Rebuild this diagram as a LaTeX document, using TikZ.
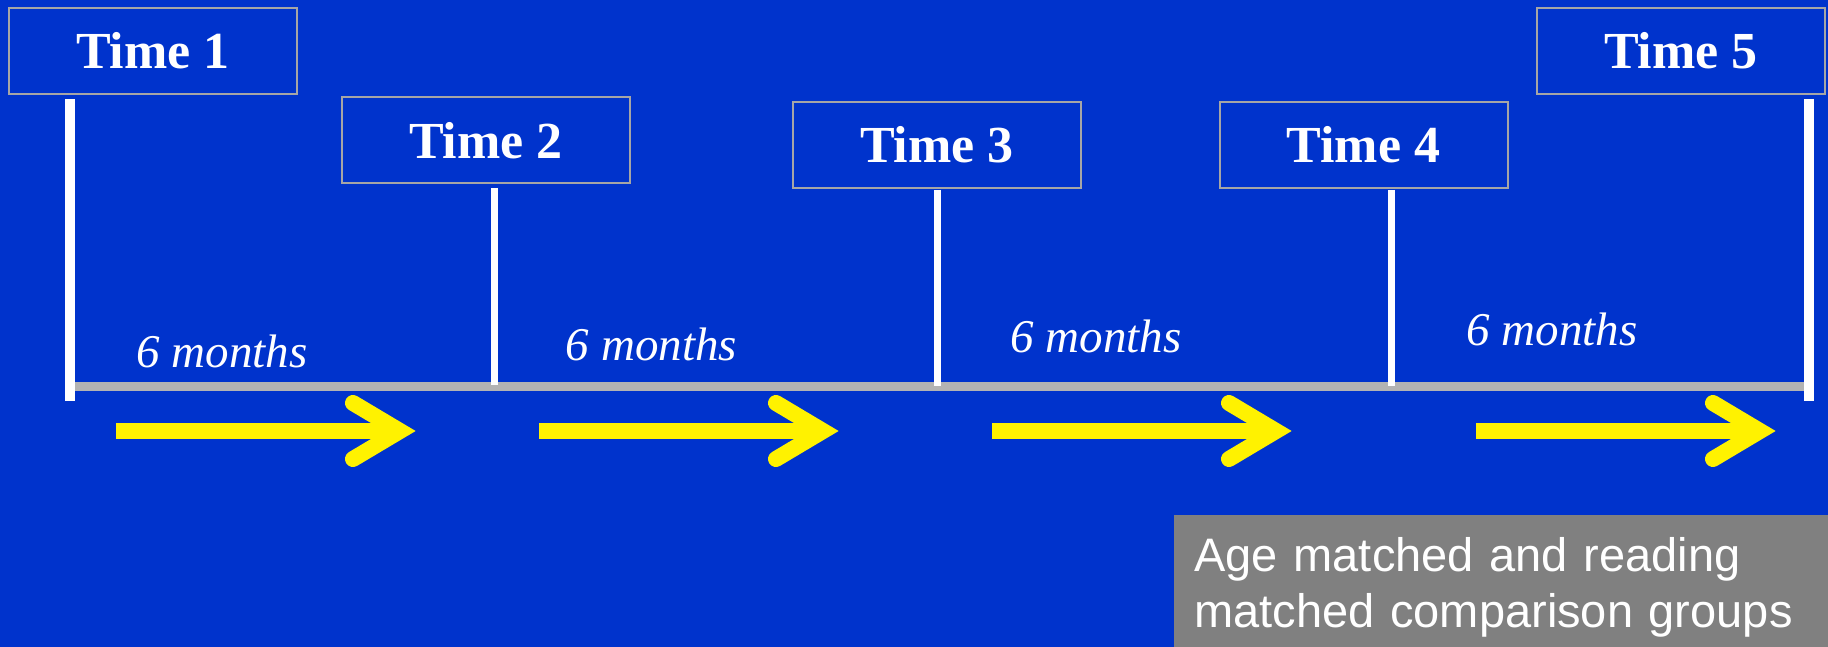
\documentclass[tikz,border=0pt]{standalone}
\usepackage{fontspec}
\setmainfont{Liberation Serif}
\newfontfamily\arialfont{Liberation Sans}

\definecolor{slideblue}{RGB}{0,51,204}
\definecolor{framegray}{RGB}{166,166,166}
\definecolor{linegray}{RGB}{179,179,179}
\definecolor{boxgray}{RGB}{128,128,128}

\tikzset{
  timebox/.style={draw=framegray, line width=1pt, minimum width=144pt, minimum height=43pt,
    inner sep=0pt, text=white, font=\fontsize{26}{30}\selectfont\bfseries},
  months/.style={anchor=base, text=white, inner sep=0pt, font=\fontsize{23.5}{28}\selectfont\itshape},
  tickbar/.style={draw=white, line width=3.5pt},
  yarrow/.style={draw=yellow, line width=8pt},
  groupbox/.style={fill=boxgray, text=white, align=left, text width=307pt, inner xsep=10pt,
    minimum height=72pt, font=\arialfont\fontsize{23.5}{28}\selectfont}
}

\begin{document}
\begin{tikzpicture}[x=0.5pt, y=-0.5pt]
            \useasboundingbox (0,0) rectangle (1828,647);
            \fill[slideblue] (0,0) rectangle (1828,647);
            % time points
            \node[timebox] (t1) at (153,51) {Time 1};
            \node[timebox] (t2) at (486,140.5) {Time 2};
            \node[timebox] (t3) at (937,145) {Time 3};
            \node[timebox] (t4) at (1363.5,145) {Time 4};
            \node[timebox] (t5) at (1681,51) {Time 5};
            % timeline
            \coordinate (start) at (70,386.5);
            \coordinate (end) at (1809,386.5);
            \draw[draw=linegray, line width=4.75pt] (start) -- (end);
            \draw[tickbar, line width=5pt] (70,99) -- (start |- 0,401);
            \draw[tickbar] (494,188) -- (494,385);
            \draw[tickbar] (937,190) -- (937,386);
            \draw[tickbar] (1391.5,190) -- (1391.5,386);
            \draw[tickbar, line width=5pt] (1809,99) -- (end |- 0,401);
            % intervals
            \node[months] (m1) at (222,367) {6 months};
            \node[months] (m2) at (651.5,360) {6 months};
            \node[months] (m3) at (1096,352) {6 months};
            \node[months] (m4) at (1552,345) {6 months};
            \foreach \x in {116,539,992,1476} {
                \draw[yarrow] (\x,431) -- ++(284,0);
                \draw[yarrow, line cap=round, line join=miter] (\x+237,403) -- (\x+284,431) -- (\x+237,459);
            }
            % comparison groups
            \node[groupbox, anchor=north west] (groups) at (1174,515) {Age matched and reading\\matched comparison groups};
        \end{tikzpicture}
\end{document}
